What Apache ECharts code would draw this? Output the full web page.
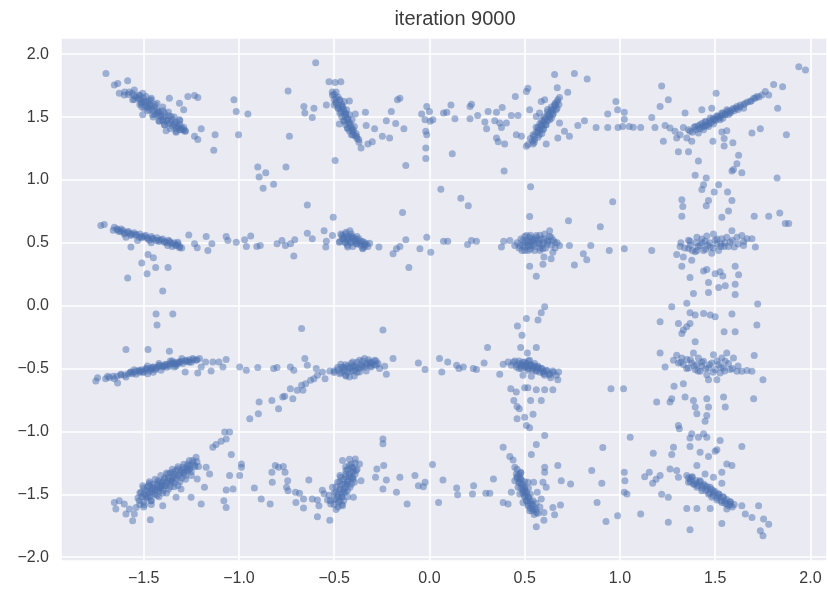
<!DOCTYPE html>
<html>
<head>
<meta charset="utf-8">
<script src="https://cdn.jsdelivr.net/npm/echarts@6/dist/echarts.min.js"></script>
<style>
html,body{margin:0;padding:0;background:#fff;}
#chart{width:828px;height:590px;}
</style>
</head>
<body>
<div id="chart"></div>
<script>
const titleText = "iteration 9000";
const xTicks = [-1.5, -1.0, -0.5, 0.0, 0.5, 1.0, 1.5, 2.0];
const yTicks = [-2.0, -1.5, -1.0, -0.5, 0.0, 0.5, 1.0, 1.5, 2.0];

// upper-left block (x -1.9..-0.93, y 0.1..2.1)
const upperLeftA = [
[-1.698,1.847],[-1.654,1.755],[-1.636,1.768],[-1.584,1.79],[-1.628,1.69],[-1.602,1.676],[-1.575,1.70],[-1.549,1.716],
[-1.558,1.637],[-1.523,1.676],[-1.505,1.69],[-1.488,1.663],[-1.514,1.61],[-1.479,1.61],[-1.461,1.637],[-1.496,1.571],
[-1.47,1.558],[-1.444,1.584],[-1.426,1.545],[-1.453,1.518],[-1.409,1.505],[-1.391,1.532],[-1.418,1.466],[-1.374,1.479],
[-1.356,1.505],[-1.391,1.44],[-1.339,1.453],[-1.321,1.426],[-1.302,1.413],[-1.284,1.387],[-1.33,1.387],[-1.505,1.518],
[-1.382,1.392],[-1.312,1.479],[-1.54,1.66],[-1.52,1.64],[-1.49,1.59],[-1.46,1.57],[-1.43,1.53],[-1.40,1.48],
[-1.37,1.45],[-1.35,1.43],[-1.33,1.41],[-1.47,1.60],[-1.50,1.63],[-1.42,1.51],[-1.31,1.40],[-1.29,1.42],
[-1.365,1.65],[-1.312,1.61],[-1.268,1.663],[-1.233,1.671],[-1.216,1.655],[-1.29,1.558],[-1.233,1.347],[-1.216,1.321],
[-1.198,1.408],[-1.125,1.36],[-1.132,1.237],[-1.026,1.637],[-1.014,1.545],[-0.953,1.524],[-1.002,1.36]
];
const coreUpperLeftA = [
[-1.60,1.70],[-1.58,1.68],[-1.56,1.69],[-1.55,1.67],[-1.53,1.65],[-1.52,1.67],[-1.51,1.62],[-1.50,1.65],[-1.49,1.62],
[-1.48,1.58],[-1.47,1.63],[-1.46,1.59],[-1.45,1.55],[-1.44,1.60],[-1.43,1.56],[-1.42,1.54],[-1.41,1.52],[-1.40,1.55],
[-1.39,1.50],[-1.38,1.47],[-1.37,1.51],[-1.36,1.46],[-1.35,1.48],[-1.34,1.44],[-1.33,1.46],[-1.32,1.42],[-1.31,1.44],
[-1.30,1.40],[-1.29,1.40],[-1.28,1.39],[-1.48,1.55],[-1.44,1.52],[-1.40,1.47],[-1.52,1.60],
[-1.46,1.65],[-1.43,1.61],[-1.40,1.58],[-1.37,1.54],[-1.34,1.50],[-1.31,1.47],[-1.45,1.50],[-1.42,1.47],[-1.39,1.44],
[-1.36,1.41],[-1.33,1.38],[-1.55,1.64],[-1.51,1.58]
];
const upperLeftB = [
[-1.725,0.637],[-1.707,0.645],[-1.654,0.624],[-1.637,0.603],[-1.619,0.61],[-1.602,0.571],[-1.584,0.584],[-1.567,0.558],
[-1.54,0.566],[-1.523,0.545],[-1.496,0.55],[-1.479,0.532],[-1.453,0.537],[-1.435,0.518],[-1.409,0.524],[-1.391,0.505],
[-1.365,0.513],[-1.347,0.492],[-1.33,0.479],[-1.312,0.461],[-1.321,0.505],[-1.374,0.479],[-1.532,0.518],[-1.593,0.545],
[-1.461,0.50],[-1.62,0.59],[-1.56,0.57],[-1.51,0.54],[-1.47,0.52],[-1.42,0.51],[-1.38,0.50],[-1.35,0.47],
[-1.567,0.466],[-1.477,0.408],[-1.449,0.382],[-1.51,0.34],[-1.437,0.303],[-1.372,0.303],[-1.482,0.255],[-1.584,0.221],
[-1.4,0.118],[-1.263,0.563],[-1.233,0.492],[-1.219,0.461],[-1.172,0.55],[-1.142,0.492],[-1.163,0.439],[-1.067,0.55],
[-1.058,0.518],[-1.014,0.505],[-0.970,0.524],[-0.961,0.471],[-0.938,0.555]
];
const coreUpperLeftB = [
[-1.66,0.60],[-1.64,0.61],[-1.63,0.59],[-1.61,0.60],[-1.60,0.58],[-1.58,0.59],[-1.57,0.57],[-1.55,0.58],[-1.54,0.56],
[-1.52,0.57],[-1.51,0.55],[-1.49,0.56],[-1.48,0.54],[-1.46,0.55],[-1.45,0.53],[-1.43,0.54],[-1.42,0.52],[-1.40,0.53],
[-1.39,0.51],[-1.37,0.52],[-1.36,0.50],[-1.34,0.50],[-1.33,0.48],[-1.32,0.49],[-1.31,0.47],[-1.30,0.46]
];
// upper centre-left block (x -0.93..0.08)
const upperMidLeftA = [
[-0.597,1.932],[-0.742,1.708],[-0.527,1.782],[-0.495,1.776],[-0.465,1.782],[-0.509,1.676],[-0.491,1.65],[-0.47,1.637],
[-0.447,1.624],[-0.42,1.629],[-0.5,1.597],[-0.477,1.571],[-0.456,1.584],[-0.435,1.558],[-0.465,1.545],[-0.442,1.505],
[-0.42,1.518],[-0.447,1.466],[-0.424,1.453],[-0.406,1.479],[-0.429,1.413],[-0.406,1.4],[-0.394,1.426],[-0.403,1.36],
[-0.382,1.347],[-0.371,1.321],[-0.359,1.255],[-0.473,1.445],[-0.389,1.524],[-0.541,1.597],[-0.49,1.62],[-0.46,1.60],
[-0.45,1.54],[-0.43,1.49],[-0.415,1.44],[-0.40,1.40],[-0.385,1.37],[-0.48,1.59],[-0.44,1.53],
[-0.659,1.584],[-0.654,1.532],[-0.606,1.571],[-0.615,1.497],[-0.735,1.347],[-0.495,1.155],[-0.336,1.539],[-0.332,1.434],
[-0.323,1.287],[-0.3,1.303],[-0.288,1.408],[-0.247,1.347],[-0.226,1.471],[-0.209,1.334],[-0.2,1.545],[-0.177,1.45],
[-0.168,1.637],[-0.155,1.65],[-0.134,1.408],[-0.124,1.116],[-0.041,1.524],[-0.023,1.479],[-0.014,1.584],[0.0,1.545],
[0.004,1.466],[0.018,1.479],[-0.019,1.387],[-0.014,1.36],[-0.019,1.255],[-0.019,1.171],[0.074,1.532],
[-0.901,1.103],[-0.859,1.058],[-0.894,1.024],[-0.873,0.934],[-0.818,0.966],[-0.753,1.103],[-0.641,0.8],[-0.505,0.703],
[-0.141,0.742],[0.06,0.926]
];
const coreUpperMidLeftA = [
[-0.51,1.70],[-0.50,1.68],[-0.49,1.70],[-0.48,1.66],[-0.50,1.64],[-0.47,1.63],[-0.49,1.61],[-0.46,1.58],[-0.48,1.57],
[-0.45,1.56],[-0.47,1.53],[-0.44,1.52],[-0.46,1.50],[-0.43,1.48],[-0.45,1.47],[-0.42,1.46],[-0.44,1.44],[-0.41,1.42],
[-0.43,1.41],[-0.40,1.38],[-0.42,1.39],[-0.39,1.35],[-0.41,1.36],[-0.38,1.33],[-0.37,1.30]
];
const upperMidLeftB = [
[-0.465,0.571],[-0.438,0.584],[-0.417,0.597],[-0.456,0.532],[-0.43,0.545],[-0.406,0.55],[-0.385,0.532],[-0.473,0.505],
[-0.442,0.505],[-0.412,0.505],[-0.382,0.492],[-0.359,0.513],[-0.341,0.487],[-0.323,0.471],[-0.35,0.453],[-0.314,0.497],
[-0.403,0.471],[-0.429,0.466],[-0.45,0.55],[-0.42,0.53],[-0.39,0.51],[-0.37,0.50],[-0.34,0.50],
[-0.906,0.471],[-0.888,0.479],[-0.8,0.492],[-0.774,0.518],[-0.756,0.479],[-0.729,0.492],[-0.707,0.524],[-0.712,0.395],
[-0.641,0.576],[-0.615,0.532],[-0.553,0.597],[-0.541,0.513],[-0.544,0.466],[-0.509,0.558],[-0.265,0.466],[-0.191,0.413],
[-0.173,0.453],[-0.155,0.471],[-0.124,0.524],[-0.108,0.303],[-0.05,0.453],[-0.014,0.545],[0.007,0.426],[0.074,0.513]
];
const coreUpperMidLeftB = [
[-0.46,0.56],[-0.45,0.53],[-0.44,0.57],[-0.43,0.52],[-0.42,0.55],[-0.41,0.50],[-0.40,0.54],[-0.39,0.52],[-0.38,0.49],
[-0.37,0.53],[-0.36,0.48],[-0.35,0.51],[-0.34,0.47],[-0.33,0.49],[-0.44,0.50],[-0.41,0.57],[-0.38,0.55],[-0.35,0.46],
[-0.47,0.51],[-0.43,0.48]
];
// upper centre-right block (x 0.08..1.09)
const upperMidRightA = [
[0.517,1.282],[0.544,1.36],[0.552,1.321],[0.57,1.4],[0.578,1.36],[0.587,1.439],[0.596,1.4],[0.605,1.479],
[0.613,1.439],[0.622,1.518],[0.631,1.479],[0.639,1.558],[0.648,1.518],[0.657,1.597],[0.665,1.558],[0.674,1.637],
[0.683,1.655],[0.587,1.624],[0.605,1.637],[0.561,1.505],[0.578,1.532],[0.526,1.558],[0.509,1.703],[0.517,1.729],
[0.56,1.42],[0.58,1.45],[0.60,1.50],[0.62,1.54],[0.64,1.58],[0.66,1.61],[0.59,1.47],[0.57,1.38],
[0.657,1.839],[0.671,1.734],[0.726,1.697],[0.761,1.847],[0.828,1.803],[0.683,1.453],[0.709,1.387],[0.735,1.347],
[0.674,1.334],[0.613,1.287],[0.544,1.287],[0.509,1.268],
[0.091,1.539],[0.113,1.597],[0.134,1.487],[0.213,1.584],[0.221,1.603],[0.213,1.487],[0.253,1.513],[0.291,1.461],
[0.3,1.408],[0.308,1.545],[0.352,1.539],[0.343,1.471],[0.369,1.453],[0.378,1.418],[0.382,1.576],[0.404,1.453],
[0.43,1.513],[0.451,1.663],[0.465,1.513],[0.456,1.36],[0.483,1.347],[0.352,1.334],[0.361,1.303],[0.395,1.287],
[0.12,1.208],[0.392,1.071],
[0.779,1.434],[0.814,1.471],[0.875,1.418],[0.936,1.524],[0.936,1.418],[0.979,1.624],[0.988,1.558],[1.023,1.539],
[0.99,1.418],[1.014,1.426],[1.049,1.426],[1.023,1.482],[1.07,1.42]
];
const coreUpperMidRightA = [
[0.53,1.33],[0.54,1.31],[0.55,1.35],[0.56,1.38],[0.57,1.34],[0.57,1.42],[0.58,1.40],[0.59,1.43],[0.59,1.37],[0.60,1.46],
[0.60,1.41],[0.61,1.49],[0.61,1.44],[0.62,1.47],[0.63,1.52],[0.63,1.50],[0.64,1.54],[0.64,1.49],[0.65,1.56],[0.65,1.53],
[0.66,1.59],[0.67,1.57],[0.67,1.62],[0.68,1.60],[0.55,1.30],[0.62,1.56]
];
const upperMidRightB = [
[0.474,0.479],[0.491,0.518],[0.5,0.466],[0.517,0.505],[0.526,0.545],[0.535,0.479],[0.552,0.524],[0.561,0.558],
[0.578,0.492],[0.587,0.532],[0.605,0.571],[0.622,0.518],[0.631,0.597],[0.639,0.545],[0.657,0.505],[0.683,0.479],
[0.486,0.439],[0.517,0.439],[0.552,0.439],[0.596,0.453],[0.509,0.558],[0.448,0.479],[0.422,0.518],
[0.50,0.50],[0.53,0.51],[0.55,0.49],[0.57,0.52],[0.60,0.50],[0.52,0.47],[0.58,0.46],[0.62,0.49],[0.54,0.53],
[0.531,0.947],[0.526,0.71],[0.73,0.676],[0.897,0.629],[0.962,0.826],[0.526,0.313],[0.561,0.234],[0.596,0.329],
[0.601,0.387],[0.639,0.374],[0.648,0.426],[0.735,0.479],[0.761,0.324],[0.808,0.413],[0.826,0.366],[0.847,0.479],
[0.944,0.439],[1.023,0.453],[0.378,0.466],
[0.096,0.513],[0.165,0.855],[0.204,0.795],[0.2,0.487],[0.221,0.518],[0.247,0.513],[0.39,0.513]
];
const coreUpperMidRightB = [
[0.46,0.50],[0.47,0.46],[0.48,0.53],[0.49,0.48],[0.50,0.55],[0.50,0.44],[0.51,0.52],[0.52,0.48],[0.53,0.56],[0.53,0.45],
[0.54,0.51],[0.55,0.47],[0.56,0.54],[0.57,0.50],[0.58,0.44],[0.58,0.56],[0.59,0.48],[0.60,0.53],[0.61,0.46],[0.62,0.51],
[0.63,0.55],[0.64,0.48],[0.65,0.52],[0.66,0.46],[0.67,0.50]
];
// upper-right block (x 1.09..2.1)
const upperRightA = [
[1.109,1.418],[1.167,1.497],[1.184,1.418],[1.219,1.747],[1.211,1.584],[1.254,1.637],[1.228,1.308],[1.237,1.434],
[1.263,1.413],[1.289,1.387],[1.298,1.334],[1.307,1.224],[1.316,1.36],[1.333,1.418],[1.342,1.532],[1.351,1.334],
[1.36,1.224],[1.368,1.387],[1.377,1.308],[1.395,1.426],[1.412,1.374],[1.412,1.15],[1.421,1.439],[1.43,1.558],
[1.439,1.4],[1.447,1.466],[1.465,1.426],[1.474,1.492],[1.482,1.571],[1.491,1.445],[1.505,1.689],[1.509,1.505],
[1.526,1.479],[1.535,1.532],[1.553,1.518],[1.561,1.558],[1.579,1.532],[1.596,1.571],[1.614,1.584],[1.632,1.597],
[1.649,1.571],[1.658,1.61],[1.684,1.624],[1.702,1.65],[1.719,1.663],[1.746,1.676],[1.763,1.703],[1.781,1.676],
[1.807,1.76],[1.854,1.742],[1.828,1.571],[1.939,1.9],[1.974,1.874],[1.693,1.374],[1.737,1.408],[1.874,1.36],
[1.488,1.308],[1.547,1.329],[1.547,1.271],[1.593,1.297],[1.561,1.392],[1.535,1.382],
[1.45,1.43],[1.47,1.45],[1.50,1.47],[1.52,1.50],[1.54,1.49],[1.57,1.52],[1.60,1.55],[1.62,1.56],[1.43,1.42],[1.49,1.48],
[1.623,1.197],[1.614,1.129],[1.588,1.071],[1.596,1.084],[1.64,1.058],[1.395,1.037],[1.453,1.016],[1.439,0.963],
[1.43,0.924],[1.518,0.963],[1.495,0.905],[1.465,0.837],[1.453,0.795],[1.565,0.905],[1.588,0.837],[1.57,0.753],
[1.535,0.703],[1.325,0.842],[1.33,0.79],[1.325,0.711],[1.825,1.016],[1.705,0.711],[1.781,0.711],[1.839,0.737],
[1.868,0.653],[1.886,0.653]
];
const coreUpperRightA = [
[1.36,1.40],[1.38,1.38],[1.39,1.42],[1.40,1.40],[1.41,1.43],[1.42,1.41],[1.43,1.45],[1.44,1.43],[1.45,1.46],[1.46,1.44],
[1.47,1.47],[1.48,1.46],[1.49,1.49],[1.50,1.48],[1.51,1.51],[1.52,1.49],[1.53,1.51],[1.54,1.53],[1.55,1.52],[1.56,1.54],
[1.57,1.55],[1.58,1.54],[1.59,1.56],[1.61,1.57],[1.63,1.58],[1.65,1.60],[1.67,1.62],[1.69,1.63],[1.71,1.65],[1.73,1.66]
];
const upperRightB = [
[1.167,0.439],[1.298,0.408],[1.316,0.471],[1.333,0.387],[1.36,0.455],[1.368,0.513],[1.395,0.429],[1.404,0.545],
[1.421,0.479],[1.439,0.439],[1.447,0.513],[1.456,0.555],[1.474,0.466],[1.482,0.418],[1.491,0.571],[1.509,0.492],
[1.518,0.439],[1.535,0.532],[1.547,0.471],[1.561,0.545],[1.579,0.505],[1.588,0.597],[1.6,0.466],[1.614,0.545],
[1.64,0.558],[1.667,0.532],[1.693,0.532],[1.711,0.466],[1.649,0.479],[1.404,0.439],[1.377,0.361],
[1.43,0.50],[1.46,0.48],[1.50,0.52],[1.53,0.49],[1.37,0.48],
[1.325,0.313],[1.368,0.224],[1.439,0.276],[1.465,0.184],[1.456,0.289],[1.5,0.255],[1.526,0.271],[1.54,0.237],
[1.605,0.313],[1.623,0.247],[1.553,0.158],[1.518,0.145],[1.605,0.171],[1.465,0.105],[1.386,0.097],[1.605,0.09]
];
const coreUpperRightB = [
[1.32,0.50],[1.34,0.46],[1.36,0.52],[1.38,0.44],[1.40,0.50],[1.41,0.47],[1.43,0.53],[1.45,0.45],[1.47,0.50],[1.49,0.46],
[1.51,0.53],[1.53,0.47],[1.55,0.50],[1.57,0.47],[1.59,0.52],[1.62,0.49],[1.65,0.51]
];
// lower-left block
const lowerLeftA = [
[-1.435,-0.066],[-1.347,-0.066],[-1.43,-0.154],
[-1.751,-0.598],[-1.742,-0.572],[-1.689,-0.561],[-1.654,-0.58],[-1.637,-0.614],[-1.619,-0.545],[-1.593,-0.566],[-1.567,-0.527],
[-1.54,-0.545],[-1.523,-0.513],[-1.505,-0.527],[-1.488,-0.5],[-1.47,-0.519],[-1.453,-0.487],[-1.435,-0.5],[-1.418,-0.473],
[-1.4,-0.487],[-1.382,-0.465],[-1.365,-0.481],[-1.347,-0.455],[-1.33,-0.465],[-1.312,-0.447],[-1.295,-0.46],[-1.277,-0.434],
[-1.26,-0.447],[-1.242,-0.42],[-1.225,-0.434],[-1.207,-0.42],[-1.479,-0.54],[-1.409,-0.513],[-1.339,-0.487],
[-1.52,-0.53],[-1.46,-0.505],[-1.39,-0.48],[-1.32,-0.46],[-1.27,-0.445],[-1.56,-0.54],
[-1.593,-0.348],[-1.477,-0.348],[-1.365,-0.362],[-1.282,-0.527],[-1.216,-0.535],
[-1.198,-0.487],[-1.175,-0.447],[-1.146,-0.519],[-1.137,-0.447],[-1.105,-0.447],[-1.084,-0.487],[-1.067,-0.428],[-0.996,-0.487],
[-0.961,-0.513],[-0.943,-0.899]
];
const coreLowerLeftA = [
[-1.70,-0.58],[-1.68,-0.57],[-1.66,-0.56],[-1.64,-0.56],[-1.62,-0.55],[-1.60,-0.55],[-1.58,-0.54],[-1.57,-0.53],[-1.55,-0.53],
[-1.54,-0.52],[-1.52,-0.52],[-1.51,-0.51],[-1.49,-0.51],[-1.48,-0.50],[-1.46,-0.50],[-1.45,-0.49],[-1.43,-0.49],[-1.42,-0.48],
[-1.40,-0.48],[-1.39,-0.47],[-1.37,-0.47],[-1.36,-0.46],[-1.34,-0.46],[-1.33,-0.45],[-1.31,-0.45],[-1.30,-0.44],[-1.28,-0.44],
[-1.26,-0.43],[-1.24,-0.43],[-1.22,-0.43],[-1.44,-0.51],[-1.38,-0.49],[-1.50,-0.53],[-1.35,-0.44],
[-1.48,-0.48],[-1.42,-0.46],[-1.36,-0.44],[-1.30,-0.42],[-1.55,-0.51],[-1.45,-0.53],[-1.33,-0.48],[-1.25,-0.45]
];
const lowerLeftB = [
[-1.654,-1.564],[-1.646,-1.617],[-1.628,-1.551],[-1.602,-1.577],[-1.593,-1.657],[-1.575,-1.617],[-1.549,-1.657],[-1.54,-1.604],
[-1.523,-1.551],[-1.514,-1.484],[-1.505,-1.431],[-1.488,-1.524],[-1.479,-1.471],[-1.47,-1.413],[-1.461,-1.551],[-1.453,-1.497],
[-1.444,-1.444],[-1.426,-1.391],[-1.418,-1.471],[-1.409,-1.431],[-1.391,-1.378],[-1.382,-1.431],[-1.374,-1.338],[-1.356,-1.391],
[-1.347,-1.324],[-1.339,-1.364],[-1.321,-1.298],[-1.312,-1.351],[-1.295,-1.285],[-1.286,-1.324],[-1.268,-1.258],[-1.26,-1.298],
[-1.242,-1.231],[-1.225,-1.205],[-1.233,-1.271],[-1.50,-1.50],[-1.46,-1.46],[-1.43,-1.42],[-1.40,-1.40],[-1.37,-1.37],
[-1.34,-1.34],[-1.30,-1.31],[-1.27,-1.28],[-1.48,-1.44],[-1.42,-1.45],[-1.36,-1.41],
[-1.465,-1.702],[-1.558,-1.71],[-1.496,-1.582],[-1.4,-1.59],[-1.33,-1.524],[-1.304,-1.457],[-1.251,-1.524],[-1.198,-1.577],
[-1.219,-1.378],[-1.181,-1.444],[-1.172,-1.285],[-1.154,-1.338],[-1.212,-1.279],
[-1.137,-1.125],[-1.12,-1.104],[-1.093,-1.077],[-1.067,-1.059],[-1.075,-1.005],[-1.049,-1.005],[-1.04,-1.184],[-0.987,-1.258],
[-0.987,-1.285],[-1.049,-1.351],[-0.996,-1.351],[-1.067,-1.465],[-1.031,-1.457],[-1.079,-1.551],[-1.067,-1.604]
];
const coreLowerLeftB = [
[-1.52,-1.58],[-1.51,-1.52],[-1.50,-1.56],[-1.49,-1.47],[-1.48,-1.53],[-1.47,-1.49],[-1.46,-1.55],[-1.45,-1.45],[-1.44,-1.50],
[-1.43,-1.46],[-1.42,-1.52],[-1.41,-1.41],[-1.40,-1.47],[-1.39,-1.43],[-1.38,-1.49],[-1.37,-1.39],[-1.36,-1.44],[-1.35,-1.36],
[-1.34,-1.41],[-1.33,-1.38],[-1.32,-1.43],[-1.31,-1.33],[-1.30,-1.37],[-1.29,-1.30],[-1.28,-1.35],[-1.27,-1.31],[-1.26,-1.27],
[-1.25,-1.32],[-1.24,-1.25],[-1.23,-1.28],[-1.22,-1.24],[-1.45,-1.42],[-1.42,-1.40],[-1.39,-1.37],[-1.36,-1.33],[-1.33,-1.31],
[-1.47,-1.43],[-1.44,-1.47],[-1.41,-1.45],[-1.38,-1.41],[-1.35,-1.39],[-1.32,-1.35],[-1.29,-1.33],[-1.26,-1.30],[-1.53,-1.53],
[-1.49,-1.51],[-1.46,-1.48],[-1.40,-1.43],
[-1.47,-1.40],[-1.44,-1.38],[-1.41,-1.35],[-1.38,-1.33],[-1.35,-1.30],[-1.32,-1.28],[-1.29,-1.26],[-1.26,-1.23],[-1.50,-1.45],
[-1.43,-1.51],[-1.40,-1.49],[-1.37,-1.46],[-1.34,-1.44],[-1.31,-1.40],[-1.28,-1.38],[-1.25,-1.35],[-1.52,-1.49],[-1.47,-1.52],
[-1.50,-1.60],[-1.46,-1.58]
];
// lower centre-left block
const lowerMidLeftA = [
[-0.671,-0.181],[-0.244,-0.194],
[-0.901,-0.492],[-0.818,-0.5],[-0.8,-0.492],[-0.73,-0.487],[-0.712,-0.513],[-0.654,-0.42],[-0.641,-0.473],[-0.594,-0.5],
[-0.898,-0.859],[-0.894,-0.766],[-0.827,-0.753],[-0.792,-0.819],[-0.77,-0.726],[-0.76,-0.72],[-0.73,-0.66],[-0.717,-0.739],
[-0.694,-0.673],[-0.671,-0.633],[-0.664,-0.673],[-0.65,-0.62],[-0.624,-0.593],[-0.606,-0.58],[-0.588,-0.553],[-0.562,-0.527],
[-0.548,-0.58],
[-0.523,-0.519],[-0.5,-0.532],[-0.482,-0.492],[-0.465,-0.465],[-0.465,-0.532],[-0.447,-0.505],[-0.438,-0.559],[-0.429,-0.479],
[-0.412,-0.519],[-0.403,-0.447],[-0.394,-0.559],[-0.385,-0.492],[-0.367,-0.434],[-0.367,-0.527],[-0.35,-0.479],[-0.341,-0.42],
[-0.332,-0.519],[-0.314,-0.447],[-0.306,-0.487],[-0.288,-0.434],[-0.279,-0.473],[-0.262,-0.5],[-0.235,-0.481],[-0.226,-0.545],
[-0.191,-0.42],[-0.42,-0.566],[-0.45,-0.49],[-0.42,-0.50],[-0.39,-0.51],[-0.36,-0.49],[-0.33,-0.47],[-0.31,-0.46],[-0.40,-0.48],
[-0.058,-0.455],[-0.023,-0.508],[0.053,-0.42],[0.065,-0.527]
];
const coreLowerMidLeftA = [
[-0.50,-0.52],[-0.48,-0.51],[-0.47,-0.54],[-0.46,-0.49],[-0.45,-0.52],[-0.44,-0.47],[-0.43,-0.53],[-0.42,-0.49],[-0.41,-0.46],
[-0.40,-0.52],[-0.39,-0.48],[-0.38,-0.45],[-0.37,-0.50],[-0.36,-0.47],[-0.35,-0.44],[-0.34,-0.49],[-0.33,-0.46],[-0.32,-0.43],
[-0.31,-0.48],[-0.30,-0.45],[-0.29,-0.47],[-0.28,-0.44],[-0.27,-0.46],[-0.44,-0.55],[-0.38,-0.53]
];
const lowerMidLeftB = [
[-0.244,-1.059],[-0.244,-1.098],[-0.827,-1.324],[-0.809,-1.271],[-0.792,-1.285],[-0.767,-1.279],[-0.758,-1.324],[-0.825,-1.404],
[-0.744,-1.391],[-0.75,-1.444],[-0.742,-1.471],[-0.919,-1.449],[-0.883,-1.537],[-0.836,-1.577],[-0.703,-1.484],[-0.682,-1.492],
[-0.701,-1.564],[-0.661,-1.537],[-0.661,-1.609],[-0.633,-1.386],[-0.615,-1.537],[-0.588,-1.545],[-0.58,-1.59],[-0.588,-1.678],
[-0.523,-1.705],[-0.562,-1.468],[-0.553,-1.495],[-0.535,-1.545],[-0.527,-1.508],[-0.518,-1.577],[-0.509,-1.444],[-0.5,-1.537],
[-0.491,-1.484],[-0.482,-1.404],[-0.477,-1.564],[-0.47,-1.457],[-0.465,-1.364],[-0.461,-1.524],[-0.456,-1.59],[-0.447,-1.418],
[-0.442,-1.484],[-0.438,-1.311],[-0.429,-1.391],[-0.42,-1.338],[-0.417,-1.444],[-0.406,-1.285],[-0.403,-1.364],[-0.394,-1.404],
[-0.389,-1.218],[-0.385,-1.311],[-0.399,-1.524],[-0.456,-1.231],[-0.359,-1.391],[-0.367,-1.258],
[-0.45,-1.46],[-0.43,-1.42],[-0.41,-1.37],[-0.48,-1.52],[-0.44,-1.36],[-0.40,-1.32],[-0.46,-1.50],
[-0.283,-1.364],[-0.276,-1.298],[-0.24,-1.271],[-0.226,-1.386],[-0.244,-1.457],[-0.173,-1.484],[-0.155,-1.364],[-0.117,-1.577],
[-0.076,-1.351],[-0.058,-1.431],[-0.032,-1.439],[-0.023,-1.404],[0.016,-1.263],[0.048,-1.564],[0.071,-1.386]
];
const coreLowerMidLeftB = [
[-0.50,-1.58],[-0.49,-1.54],[-0.48,-1.60],[-0.48,-1.50],[-0.47,-1.55],[-0.47,-1.46],[-0.46,-1.52],[-0.46,-1.42],[-0.45,-1.48],
[-0.45,-1.38],[-0.44,-1.44],[-0.44,-1.34],[-0.43,-1.40],[-0.43,-1.30],[-0.42,-1.36],[-0.42,-1.27],[-0.41,-1.32],[-0.41,-1.42],
[-0.40,-1.29],[-0.40,-1.38],[-0.39,-1.25],[-0.39,-1.34],[-0.38,-1.30],[-0.49,-1.62],[-0.46,-1.58],[-0.43,-1.47],[-0.50,-1.49],
[-0.47,-1.40],[-0.47,-1.35],[-0.44,-1.28],[-0.42,-1.22],[-0.49,-1.44],[-0.45,-1.55],[-0.43,-1.52],[-0.41,-1.26],[-0.52,-1.55]
];
// lower centre-right block
const lowerMidRightA = [
[0.605,-0.008],[0.587,-0.056],[0.57,-0.114],[0.509,-0.101],[0.462,-0.162],[0.486,-0.234],[0.305,-0.332],[0.479,-0.332],
[0.514,-0.375],[0.561,-0.332],
[0.096,-0.447],[0.143,-0.473],[0.155,-0.5],[0.178,-0.487],[0.23,-0.5],[0.247,-0.508],[0.287,-0.455],[0.369,-0.545],[0.387,-0.465],
[0.413,-0.447],[0.43,-0.473],[0.448,-0.439],[0.456,-0.487],[0.474,-0.46],[0.483,-0.5],[0.5,-0.447],[0.509,-0.473],
[0.517,-0.513],[0.526,-0.434],[0.535,-0.473],[0.544,-0.5],[0.552,-0.46],[0.561,-0.519],[0.57,-0.481],[0.587,-0.5],
[0.596,-0.527],[0.613,-0.513],[0.631,-0.54],[0.648,-0.519],[0.666,-0.553],[0.678,-0.527],[0.674,-0.588],[0.636,-0.572],
[0.605,-0.553],[0.535,-0.561],[0.491,-0.553],[0.51,-0.49],[0.53,-0.48],[0.55,-0.49],[0.57,-0.50],[0.60,-0.52],[0.49,-0.47],
[0.427,-0.66],[0.456,-0.686],[0.5,-0.652],[0.517,-0.652],[0.561,-0.668],[0.605,-0.668],[0.648,-0.668],[0.443,-0.753],
[0.46,-0.801],[0.472,-0.819],[0.531,-0.753],[0.587,-0.753],[0.46,-0.899],[0.5,-0.886],[0.544,-0.864],[0.509,-0.952],
[0.526,-0.971],[0.953,-0.66],[1.019,-0.66]
];
const coreLowerMidRightA = [
[0.44,-0.45],[0.46,-0.47],[0.47,-0.44],[0.48,-0.48],[0.49,-0.45],[0.50,-0.49],[0.51,-0.46],[0.52,-0.50],[0.53,-0.47],
[0.54,-0.51],[0.55,-0.48],[0.56,-0.52],[0.57,-0.49],[0.58,-0.53],[0.59,-0.50],[0.60,-0.54],[0.62,-0.52],[0.63,-0.55],
[0.65,-0.53],[0.52,-0.44],[0.47,-0.50]
];
const lowerMidRightB = [
[0.605,-1.032],[0.561,-1.104],[0.535,-1.184],[0.387,-1.125],[0.422,-1.199],[0.439,-1.226],[0.448,-1.285],[0.456,-1.338],
[0.474,-1.364],[0.448,-1.391],[0.483,-1.418],[0.465,-1.444],[0.491,-1.471],[0.474,-1.497],[0.5,-1.511],[0.509,-1.551],
[0.491,-1.564],[0.517,-1.59],[0.526,-1.63],[0.544,-1.617],[0.561,-1.644],[0.5,-1.444],[0.517,-1.404],[0.479,-1.324],
[0.43,-1.484],[0.387,-1.564],[0.413,-1.577],[0.544,-1.551],[0.566,-1.484],[0.587,-1.537],[0.601,-1.644],[0.601,-1.705],
[0.561,-1.758],[0.613,-1.444],[0.605,-1.285],[0.605,-1.324],[0.674,-1.271],[0.692,-1.391],[0.741,-1.418],[0.596,-1.404],
[0.648,-1.604],[0.688,-1.585],[0.657,-1.662],[0.547,-1.404],
[0.47,-1.40],[0.49,-1.45],[0.50,-1.48],[0.52,-1.53],[0.48,-1.38],[0.51,-1.50],[0.53,-1.57],[0.46,-1.36],
[0.143,-1.449],[0.148,-1.503],[0.226,-1.497],[0.232,-1.431],[0.296,-1.492],[0.336,-1.378],[0.317,-1.492],
[0.852,-1.311],[0.905,-1.412],[0.91,-1.128],[0.88,-1.564],[0.927,-1.715],[0.988,-1.67],[1.023,-1.324],[1.026,-1.391],
[1.023,-1.484],[1.054,-1.045],[1.037,-1.497]
];
const coreLowerMidRightB = [
[0.46,-1.30],[0.47,-1.34],[0.46,-1.37],[0.48,-1.38],[0.47,-1.41],[0.49,-1.42],[0.48,-1.45],[0.50,-1.46],[0.49,-1.49],
[0.51,-1.48],[0.50,-1.52],[0.52,-1.52],[0.51,-1.55],[0.53,-1.55],[0.52,-1.58],[0.54,-1.58],[0.53,-1.61],[0.55,-1.60],
[0.54,-1.63],[0.56,-1.62],[0.55,-1.66],[0.57,-1.65],[0.50,-1.40],[0.52,-1.45],[0.53,-1.50],[0.48,-1.33],[0.56,-1.57],
[0.58,-1.60]
];
// lower-right block
const lowerRightA = [
[1.272,-0.008],[1.351,0.019],[1.368,-0.056],[1.395,-0.074],[1.439,-0.061],[1.474,-0.074],[1.5,-0.088],[1.211,-0.128],
[1.307,-0.141],[1.333,-0.194],[1.351,-0.168],[1.368,-0.141],[1.325,-0.221],[1.588,-0.066],[1.723,0.013],[1.719,-0.154],
[1.547,-0.207],[1.605,-0.207],[1.395,-0.287],[1.211,-0.375],
[1.281,-0.434],[1.298,-0.394],[1.307,-0.455],[1.325,-0.415],[1.237,-0.487],[1.333,-0.468],[1.351,-0.428],[1.36,-0.495],
[1.377,-0.455],[1.386,-0.375],[1.395,-0.508],[1.404,-0.468],[1.412,-0.415],[1.421,-0.521],[1.43,-0.481],[1.439,-0.441],
[1.456,-0.548],[1.465,-0.495],[1.482,-0.455],[1.491,-0.389],[1.5,-0.508],[1.518,-0.468],[1.526,-0.535],[1.535,-0.415],
[1.544,-0.495],[1.553,-0.442],[1.561,-0.375],[1.579,-0.508],[1.596,-0.415],[1.614,-0.521],[1.64,-0.521],[1.667,-0.516],
[1.693,-0.521],[1.705,-0.396],[1.751,-0.588],[1.509,-0.588],[1.465,-0.588],[1.284,-0.641],[1.333,-0.62],
[1.193,-0.766],[1.263,-0.766],[1.272,-0.74],[1.342,-0.726],[1.386,-0.753],[1.395,-0.806],[1.404,-0.859],[1.456,-0.74],
[1.465,-0.806],[1.456,-0.872],[1.447,-0.918],[1.544,-0.726],[1.553,-0.806],[1.702,-0.74],[1.307,-0.952],[1.312,-0.979],
[1.377,-1.019],[1.368,-1.051],[1.439,-1.019],[1.456,-1.045],[1.412,-1.045],[1.526,-1.072],[1.509,-1.146],[1.64,-1.12],
[1.175,-1.173],[1.281,-1.125],[1.272,-1.184],[1.368,-1.12],[1.421,-1.165],[1.465,-1.199],[1.5,-1.157]
];
const coreLowerRightA = [
[1.32,-0.45],[1.35,-0.50],[1.37,-0.43],[1.39,-0.48],[1.41,-0.52],[1.43,-0.45],[1.45,-0.50],[1.47,-0.47],[1.49,-0.53],
[1.51,-0.44],[1.53,-0.49],[1.55,-0.52],[1.57,-0.46],[1.59,-0.50],[1.62,-0.48]
];
const lowerRightB = [
[1.263,-1.298],[1.154,-1.324],[1.172,-1.412],[1.211,-1.351],[1.219,-1.5],[1.13,-1.36],[1.19,-1.38],
[1.298,-1.311],[1.307,-1.364],[1.351,-1.351],[1.36,-1.404],[1.377,-1.364],[1.386,-1.418],[1.404,-1.271],[1.404,-1.444],
[1.421,-1.391],[1.43,-1.471],[1.447,-1.338],[1.447,-1.431],[1.465,-1.497],[1.474,-1.444],[1.482,-1.524],[1.491,-1.471],
[1.509,-1.545],[1.518,-1.497],[1.535,-1.564],[1.544,-1.524],[1.561,-1.577],[1.579,-1.559],[1.561,-1.617],[1.535,-1.412],
[1.561,-1.258],[1.588,-1.271],[1.535,-1.324],[1.491,-1.364],
[1.37,-1.38],[1.40,-1.41],[1.43,-1.43],[1.46,-1.46],[1.49,-1.49],[1.52,-1.52],[1.55,-1.55],[1.58,-1.58],
[1.64,-1.59],[1.658,-1.657],[1.693,-1.684],[1.728,-1.59],[1.754,-1.697],[1.781,-1.737],[1.737,-1.79],[1.751,-1.83],
[1.109,-1.657],[1.254,-1.524],[1.254,-1.721],[1.351,-1.612],[1.404,-1.612],[1.368,-1.782],[1.474,-1.612],[1.535,-1.732]
];
const coreLowerRightB = [
[1.36,-1.37],[1.37,-1.40],[1.38,-1.36],[1.39,-1.42],[1.40,-1.39],[1.41,-1.43],[1.42,-1.40],[1.43,-1.45],[1.44,-1.42],
[1.45,-1.47],[1.46,-1.44],[1.47,-1.49],[1.48,-1.46],[1.49,-1.51],[1.50,-1.48],[1.51,-1.53],[1.52,-1.50],[1.53,-1.55],
[1.54,-1.52],[1.55,-1.57],[1.56,-1.54],[1.57,-1.59],[1.58,-1.56],[1.59,-1.60],[1.60,-1.58]
];

const allPoints = [].concat(
  upperLeftA, coreUpperLeftA, upperLeftB, coreUpperLeftB,
  upperMidLeftA, coreUpperMidLeftA, upperMidLeftB, coreUpperMidLeftB,
  upperMidRightA, coreUpperMidRightA, upperMidRightB, coreUpperMidRightB,
  upperRightA, coreUpperRightA, upperRightB, coreUpperRightB,
  lowerLeftA, coreLowerLeftA, lowerLeftB, coreLowerLeftB,
  lowerMidLeftA, coreLowerMidLeftA, lowerMidLeftB, coreLowerMidLeftB,
  lowerMidRightA, coreLowerMidRightA, lowerMidRightB, coreLowerMidRightB,
  lowerRightA, coreLowerRightA, lowerRightB, coreLowerRightB
);

function fmt(ticks) {
  return function (v) {
    for (const t of ticks) { if (Math.abs(v - t) < 1e-6) return t.toFixed(1).replace('-', '\u2212'); }
    return '';
  };
}

const chart = echarts.init(document.getElementById('chart'), null, {renderer: 'canvas'});
const textColor = '#3a3a3a';
chart.setOption({
  backgroundColor: '#ffffff',
  animation: false,
  title: {
    text: titleText,
    left: 450, top: 4, textAlign: 'center',
    textStyle: {fontFamily: 'Liberation Sans, Arial, sans-serif', fontSize: 20, fontWeight: 'normal', color: textColor}
  },
  grid: {left: 61, right: 1, top: 38, bottom: 29, show: true, backgroundColor: '#EAEAF2', borderWidth: 0},
  xAxis: {
    type: 'value', min: -1.934, max: 2.087, splitNumber: 8, minInterval: 0.5, maxInterval: 0.5,
    axisLine: {show: false}, axisTick: {show: false},
    splitLine: {show: true, lineStyle: {color: '#ffffff', width: 1.6}},
    axisLabel: {showMinLabel: false, showMaxLabel: false, formatter: fmt(xTicks), margin: 10,
      fontFamily: 'Liberation Sans, Arial, sans-serif', fontSize: 16, color: textColor}
  },
  yAxis: {
    type: 'value', min: -2.030, max: 2.129, splitNumber: 8, minInterval: 0.5, maxInterval: 0.5,
    axisLine: {show: false}, axisTick: {show: false},
    splitLine: {show: true, lineStyle: {color: '#ffffff', width: 1.6}},
    axisLabel: {showMinLabel: false, showMaxLabel: false, formatter: fmt(yTicks), margin: 12,
      fontFamily: 'Liberation Sans, Arial, sans-serif', fontSize: 16, color: textColor}
  },
  series: [{
    type: 'scatter',
    data: allPoints,
    symbol: 'circle',
    symbolSize: 7,
    itemStyle: {color: 'rgba(76,114,176,0.62)', borderWidth: 0}
  }]
});
</script>
</body>
</html>
